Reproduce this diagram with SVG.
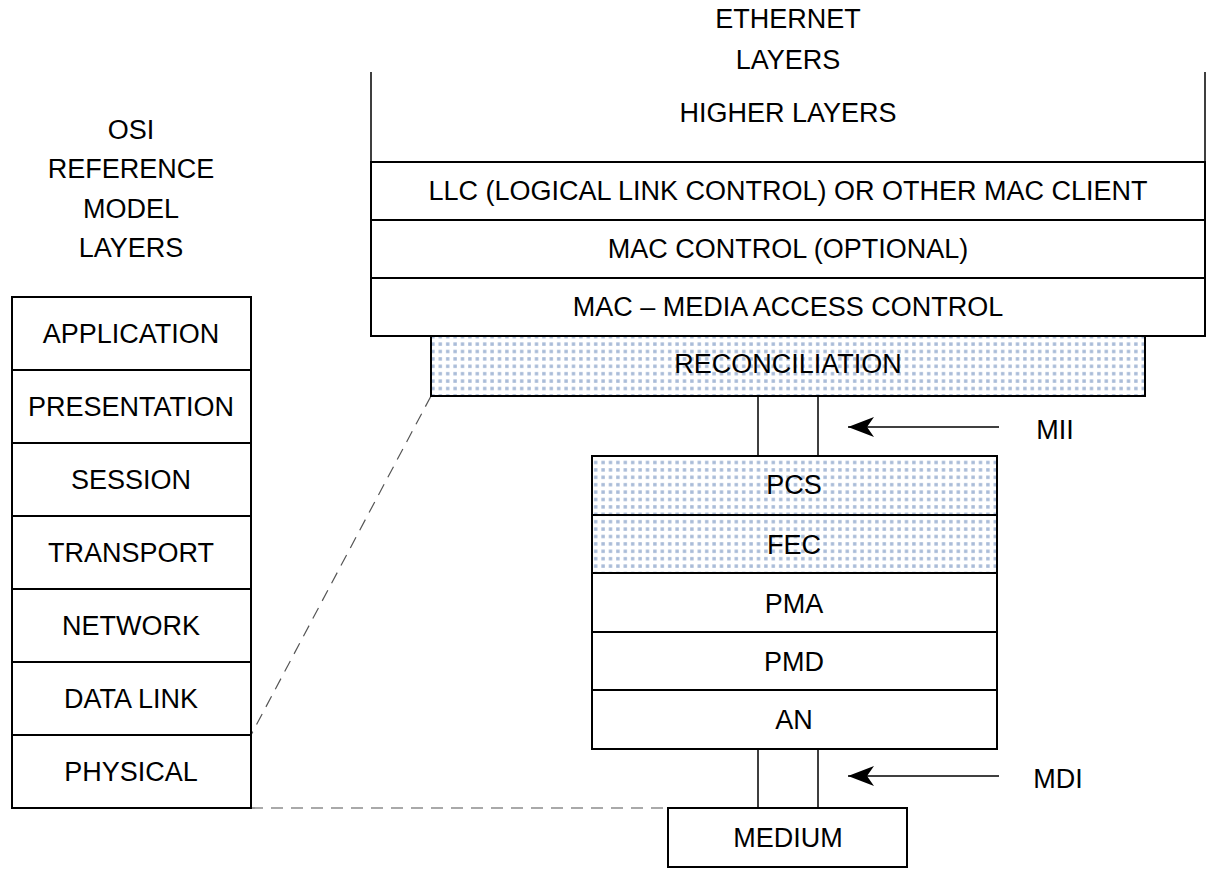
<svg xmlns="http://www.w3.org/2000/svg" width="1218" height="876" viewBox="0 0 1218 876">
<style>
.box{fill:#fff;stroke:#000;stroke-width:2}
.dot{fill:url(#dots);stroke:#000;stroke-width:2}
.ln{stroke:#000;stroke-width:1.5;fill:none}
.dash{stroke:#555;stroke-width:1.2;stroke-dasharray:12,8;fill:none}
text{font-family:"Liberation Sans","Open Sans",sans-serif;font-size:27px;fill:#000;text-anchor:middle;dominant-baseline:central}
</style>
<defs>
<pattern id="dots" width="7.4" height="7.4" patternUnits="userSpaceOnUse">
<rect width="7.4" height="7.4" fill="#fff"/>
<rect x="2" y="2" width="3.4" height="3.4" fill="#a9bcd8"/>
</pattern>
<marker id="arr" markerWidth="26" markerHeight="20" refX="26" refY="10" orient="auto" markerUnits="userSpaceOnUse" viewBox="0 0 26 20">
<path d="M26,10 L0,0 L7,10 L0,20 Z" fill="#000"/>
</marker>
</defs>
<text x="131" y="130">OSI</text>
<text x="131" y="169">REFERENCE</text>
<text x="131" y="209">MODEL</text>
<text x="131" y="248">LAYERS</text>
<text x="788" y="19">ETHERNET</text>
<text x="788" y="60">LAYERS</text>
<g id="connectors">
<path class="dash" d="M431,396 L251,735"/>
<path class="dash" d="M251,808 L668,808"/>
<path class="ln" d="M758,396 V456 M818,396 V456"/>
<path class="ln" d="M758,749 V808 M818,749 V808"/>
<path class="ln" d="M999,427 H848" marker-end="url(#arr)"/>
<path class="ln" d="M999,776 H848" marker-end="url(#arr)"/>
<path class="ln" d="M371,72 V162 M1205,72 V162"/>
</g>
<g id="osi">
<g id="application"><rect class="box" x="12" y="297" width="239" height="73"/><text x="131" y="334">APPLICATION</text></g>
<g id="presentation"><rect class="box" x="12" y="370" width="239" height="73"/><text x="131" y="407">PRESENTATION</text></g>
<g id="session"><rect class="box" x="12" y="443" width="239" height="73"/><text x="131" y="480">SESSION</text></g>
<g id="transport"><rect class="box" x="12" y="516" width="239" height="73"/><text x="131" y="553">TRANSPORT</text></g>
<g id="network"><rect class="box" x="12" y="589" width="239" height="73"/><text x="131" y="626">NETWORK</text></g>
<g id="datalink"><rect class="box" x="12" y="662" width="239" height="73"/><text x="131" y="699">DATA LINK</text></g>
<g id="physical"><rect class="box" x="12" y="735" width="239" height="73"/><text x="131" y="772">PHYSICAL</text></g>
</g>
<g id="higher"><text x="788" y="113">HIGHER LAYERS</text></g>
<g id="llc"><rect class="box" x="371" y="162" width="834" height="58"/><text x="788" y="191">LLC (LOGICAL LINK CONTROL) OR OTHER MAC CLIENT</text></g>
<g id="maccontrol"><rect class="box" x="371" y="220" width="834" height="58"/><text x="788" y="249">MAC CONTROL (OPTIONAL)</text></g>
<g id="mac"><rect class="box" x="371" y="278" width="834" height="58"/><text x="788" y="307">MAC – MEDIA ACCESS CONTROL</text></g>
<g id="reconciliation"><rect class="dot" x="431" y="336" width="714" height="60"/><text x="788" y="364">RECONCILIATION</text></g>
<g id="pcs"><rect class="dot" x="592" y="456" width="405" height="59"/><text x="794" y="485">PCS</text></g>
<g id="fec"><rect class="dot" x="592" y="515" width="405" height="58"/><text x="794" y="545">FEC</text></g>
<g id="pma"><rect class="box" x="592" y="573" width="405" height="59"/><text x="794" y="604">PMA</text></g>
<g id="pmd"><rect class="box" x="592" y="632" width="405" height="58"/><text x="794" y="662">PMD</text></g>
<g id="an"><rect class="box" x="592" y="690" width="405" height="59"/><text x="794" y="720">AN</text></g>
<g id="medium"><rect class="box" x="668" y="808" width="239" height="59"/><text x="788" y="838">MEDIUM</text></g>
<g id="mii"><text x="1055" y="430">MII</text></g>
<g id="mdi"><text x="1058" y="779">MDI</text></g>
</svg>
